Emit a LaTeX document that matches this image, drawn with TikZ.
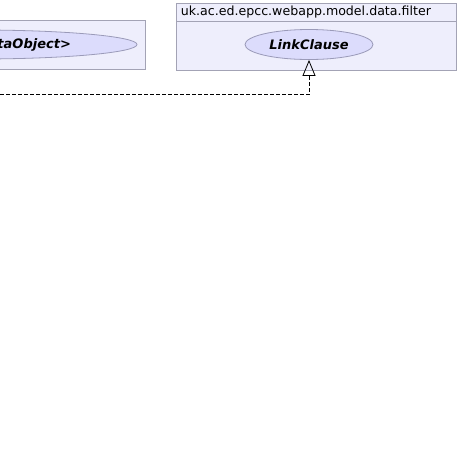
\documentclass[tikz,border=0pt]{standalone}
\usepackage{fontspec}
\setmainfont{DejaVu Sans}
\usetikzlibrary{arrows.meta,shapes.geometric}
\definecolor{pkgfill}{HTML}{EEEEFC}
\definecolor{pkgline}{HTML}{A3A3B5}
\definecolor{ucfill}{HTML}{DCDCFC}
\definecolor{ucline}{HTML}{9A9AB8}
\begin{document}
\begin{tikzpicture}[x=1pt,y=-1pt,
  pkgbox/.style={draw=pkgline,fill=pkgfill,line width=0.8pt,rectangle,inner sep=0pt},
  classnode/.style={draw=ucline,fill=ucfill,line width=0.8pt,ellipse,inner sep=0pt,
    font=\fontsize{13}{15}\selectfont\bfseries\itshape},
  realize/.style={dash pattern=on 4pt off 2pt,line width=0.8pt,-{Triangle[open,length=16pt,width=13pt]}}]
\useasboundingbox (0,0) rectangle (458,448);
\clip (0,0) rectangle (458,448);
% left package (cut off)
\node[pkgbox,minimum width=200pt,minimum height=49pt] (basepkg) at (45,44.5) {};
\node[classnode,minimum width=318pt,minimum height=29pt] (dataobj) at (-22,44.5) {JoinerFilter<DataObject>};
% filter package
\node[pkgbox,inner xsep=5pt,text width=270pt,align=left,minimum height=18pt,anchor=north west,
  font=\fontsize{12.6}{15}\selectfont] (filterhead) at (175.5,2.5)
  {uk.ac.ed.epcc.webapp.model.data.filter};
\node[pkgbox,minimum width=280pt,minimum height=49pt,anchor=north west] (filterpkg) at (filterhead.south west) {};
\node[classnode,minimum width=128pt,minimum height=30pt] (linkclause) at (309,44.5) {LinkClause};
% realization
\coordinate (src) at (-30,94.5);
\draw[realize] (src) -| (linkclause.south);
\end{tikzpicture}
\end{document}
